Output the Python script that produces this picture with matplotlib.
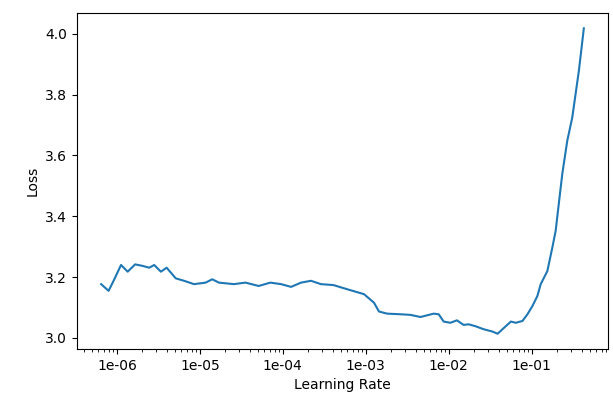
"""Learning-rate finder plot: loss against learning rate on a log scale."""

import matplotlib
matplotlib.use("Agg")
import matplotlib.pyplot as plt
import matplotlib.ticker as mticker

# exponents of the learning rates tried (log10)
lr_exp = [
    -6.19, -6.10, -6.04, -5.95, -5.87, -5.78, -5.69, -5.61, -5.55, -5.47,
    -5.40, -5.29, -5.19, -5.07, -4.93, -4.85, -4.77, -4.59, -4.45, -4.29,
    -4.15, -4.02, -3.90, -3.78, -3.66, -3.54, -3.39, -3.22, -3.02, -2.90,
    -2.84, -2.74, -2.58, -2.46, -2.34, -2.18, -2.12, -2.06, -1.98, -1.90,
    -1.82, -1.76, -1.68, -1.58, -1.47, -1.41, -1.33, -1.25, -1.19, -1.11,
    -1.05, -0.99, -0.93, -0.89, -0.81, -0.75, -0.71, -0.63, -0.57, -0.51,
    -0.43, -0.37,
]
lrs = [10 ** e for e in lr_exp]

losses = [
    3.177, 3.155, 3.188, 3.240, 3.218, 3.242, 3.237, 3.231, 3.240, 3.218,
    3.231, 3.196, 3.188, 3.177, 3.182, 3.193, 3.182, 3.177, 3.182, 3.171,
    3.182, 3.177, 3.168, 3.182, 3.188, 3.177, 3.174, 3.160, 3.144, 3.116,
    3.087, 3.080, 3.078, 3.076, 3.069, 3.080, 3.078, 3.054, 3.050, 3.058,
    3.043, 3.045, 3.039, 3.029, 3.021, 3.014, 3.034, 3.054, 3.050, 3.056,
    3.078, 3.105, 3.138, 3.177, 3.220, 3.297, 3.352, 3.539, 3.648, 3.724,
    3.878, 4.018,
]

fig = plt.figure(figsize=(6.13, 3.98), dpi=100)
ax = fig.add_axes([0.1256, 0.1231, 0.8662, 0.8442])
ax.plot(lrs, losses, color="#1f77b4", linewidth=1.5)
ax.set_xscale("log")
ax.xaxis.set_major_formatter(mticker.FormatStrFormatter("%.0e"))
ax.set_yticks([3.0, 3.2, 3.4, 3.6, 3.8, 4.0])
ax.set_ylabel("Loss")
ax.set_xlabel("Learning Rate")

fig.savefig("out.png", dpi=100)
plt.close(fig)
